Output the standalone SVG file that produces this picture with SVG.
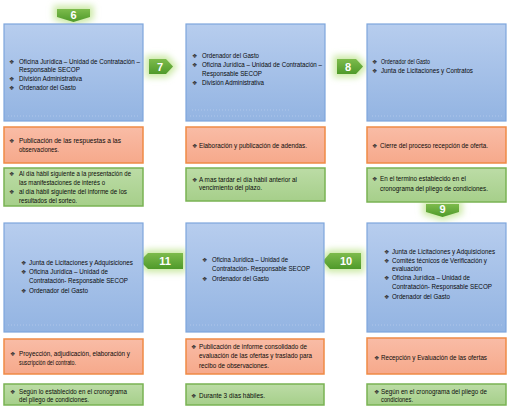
<svg xmlns="http://www.w3.org/2000/svg" width="508" height="407" viewBox="0 0 508 407">
<defs>
<linearGradient id="gBlue" x1="0" y1="0" x2="0" y2="1"><stop offset="0" stop-color="#b7cdee"/><stop offset="1" stop-color="#93b4e2"/></linearGradient>
<linearGradient id="gOr" x1="0" y1="0" x2="0" y2="1"><stop offset="0" stop-color="#f9bca6"/><stop offset="1" stop-color="#f6a98b"/></linearGradient>
<linearGradient id="gGr" x1="0" y1="0" x2="0" y2="1"><stop offset="0" stop-color="#bcdca6"/><stop offset="1" stop-color="#a6cf8a"/></linearGradient>
<linearGradient id="gAr" x1="0" y1="0" x2="0" y2="1"><stop offset="0" stop-color="#7dbb4c"/><stop offset="1" stop-color="#4f9a2a"/></linearGradient>
<filter id="glow" x="-60%" y="-100%" width="220%" height="300%"><feGaussianBlur stdDeviation="3"/></filter>
<style>
.blue{fill:url(#gBlue);stroke:#7ea6dc;stroke-width:1.2}
.or{fill:url(#gOr);stroke:#ef8a45;stroke-width:1.5}
.gr{fill:url(#gGr);stroke:#79b353;stroke-width:1.5}
.dots{stroke:#c9d9f2;stroke-width:0.8;stroke-dasharray:0.8 2.2;fill:none;opacity:0.8}
.t{font-family:"Liberation Sans",Arial,sans-serif;font-size:7px;fill:#0a0a0a}
.b{font-family:"DejaVu Sans",sans-serif;font-size:6px;fill:#333}
.ar{fill:url(#gAr)}
.halo{fill:#c2e49a;stroke:#cdeaa8;stroke-width:7;filter:url(#glow)}
.n{font-family:"Liberation Sans",Arial,sans-serif;font-size:11px;font-weight:bold;fill:#fff;text-anchor:middle}
</style>
</defs>
<rect width="508" height="407" fill="#fff"/>

<g id="connectors">
  <g id="arrow6"><polygon class="halo" points="57,9 90,9 90,17 73.5,22 57,17"/><polygon class="ar" points="57,9 90,9 90,17 73.5,22 57,17"/><text class="n" x="73.5" y="18.5">6</text></g>
  <g id="arrow7"><polygon class="halo" points="149,59 166,59 173,66.5 166,74 149,74"/><polygon class="ar" points="149,59 166,59 173,66.5 166,74 149,74"/><text class="n" x="160" y="70.5">7</text></g>
  <g id="arrow8"><polygon class="halo" points="337,59 356,59 363,66.5 356,74 337,74"/><polygon class="ar" points="337,59 356,59 363,66.5 356,74 337,74"/><text class="n" x="348" y="70.5">8</text></g>
  <g id="arrow9"><polygon class="halo" points="426,204 459,204 459,212 442.5,217 426,212"/><polygon class="ar" points="426,204 459,204 459,212 442.5,217 426,212"/><text class="n" x="442.5" y="213">9</text></g>
  <g id="arrow10"><polygon class="halo" points="323,261 330,253 361,253 361,269 330,269"/><polygon class="ar" points="323,261 330,253 361,253 361,269 330,269"/><text class="n" x="346" y="265">10</text></g>
  <g id="arrow11"><polygon class="halo" points="140,261 148,253 183,253 183,269 148,269"/><polygon class="ar" points="140,261 148,253 183,253 183,269 148,269"/><text class="n" x="165" y="265">11</text></g>
</g>

<g id="step6">
  <g id="s6-who"><rect class="blue" x="4" y="24" width="139" height="97"/>
    <line class="dots" x1="8" y1="116" x2="138" y2="116"/>
    <text class="b" x="9" y="64">❖</text><text class="t" x="19" y="64" textLength="121" lengthAdjust="spacingAndGlyphs">Oficina Jurídica – Unidad de Contratación –</text>
    <text class="t" x="19" y="71.5" textLength="61" lengthAdjust="spacingAndGlyphs">Responsable SECOP</text>
    <text class="b" x="9" y="81">❖</text><text class="t" x="19" y="81" textLength="63" lengthAdjust="spacingAndGlyphs">División Administrativa</text>
    <text class="b" x="9" y="90">❖</text><text class="t" x="19" y="90" textLength="57" lengthAdjust="spacingAndGlyphs">Ordenador del Gasto</text>
  </g>
  <g id="s6-what"><rect class="or" x="4" y="127" width="139" height="36"/>
    <text class="b" x="9" y="142.5">❖</text><text class="t" x="19" y="142.5" textLength="102" lengthAdjust="spacingAndGlyphs">Publicación de las respuestas a las</text>
    <text class="t" x="19" y="151.5" textLength="40" lengthAdjust="spacingAndGlyphs">observaciones.</text>
  </g>
  <g id="s6-when"><rect class="gr" x="4" y="168" width="139" height="38"/>
    <text class="b" x="9" y="175.5">❖</text><text class="t" x="19" y="175.5" textLength="112" lengthAdjust="spacingAndGlyphs">Al día hábil siguiente a la presentación de</text>
    <text class="t" x="19" y="184.5" textLength="86" lengthAdjust="spacingAndGlyphs">las manifestaciones de interés o</text>
    <text class="b" x="9" y="193.5">❖</text><text class="t" x="19" y="193.5" textLength="108" lengthAdjust="spacingAndGlyphs">al día hábil siguiente del informe de los</text>
    <text class="t" x="19" y="202.5" textLength="58" lengthAdjust="spacingAndGlyphs">resultados del sorteo.</text>
  </g>
</g>

<g id="step7">
  <g id="s7-who"><rect class="blue" x="186" y="24" width="139" height="97"/>
    <line class="dots" x1="192" y1="110" x2="290" y2="110"/>
    <line class="dots" x1="190" y1="116" x2="320" y2="116"/>
    <text class="b" x="192" y="57.5">❖</text><text class="t" x="202" y="57.5" textLength="57" lengthAdjust="spacingAndGlyphs">Ordenador del Gasto</text>
    <text class="b" x="192" y="66.5">❖</text><text class="t" x="202" y="66.5" textLength="120" lengthAdjust="spacingAndGlyphs">Oficina Jurídica – Unidad de Contratación –</text>
    <text class="t" x="202" y="75.5" textLength="60" lengthAdjust="spacingAndGlyphs">Responsable SECOP</text>
    <text class="b" x="192" y="85">❖</text><text class="t" x="202" y="85" textLength="62" lengthAdjust="spacingAndGlyphs">División Administrativa</text>
  </g>
  <g id="s7-what"><rect class="or" x="186" y="127" width="139" height="36"/>
    <text class="b" x="192" y="147.5">❖</text><text class="t" x="199" y="147.5" textLength="108" lengthAdjust="spacingAndGlyphs">Elaboración y publicación de adendas.</text>
  </g>
  <g id="s7-when"><rect class="gr" x="186" y="168" width="139" height="33"/>
    <text class="b" x="192" y="181.5">❖</text><text class="t" x="199" y="181.5" textLength="98" lengthAdjust="spacingAndGlyphs">A mas tardar el día hábil anterior al</text>
    <text class="t" x="199" y="189.5" textLength="63" lengthAdjust="spacingAndGlyphs">vencimiento del plazo.</text>
  </g>
</g>

<g id="step8">
  <g id="s8-who"><rect class="blue" x="367" y="24" width="139" height="97"/>
    <line class="dots" x1="372" y1="116" x2="502" y2="116"/>
    <text class="b" x="372" y="63.5">❖</text><text class="t" x="381" y="63.5" textLength="49" lengthAdjust="spacingAndGlyphs">Ordenador del Gasto</text>
    <text class="b" x="372" y="72.5">❖</text><text class="t" x="381" y="72.5" textLength="92" lengthAdjust="spacingAndGlyphs">Junta de Licitaciones y Contratos</text>
  </g>
  <g id="s8-what"><rect class="or" x="367" y="127" width="139" height="36"/>
    <text class="b" x="372" y="147.5">❖</text><text class="t" x="380" y="147.5" textLength="108" lengthAdjust="spacingAndGlyphs">Cierre del proceso recepción de oferta.</text>
  </g>
  <g id="s8-when"><rect class="gr" x="367" y="168" width="139" height="34"/>
    <text class="b" x="372" y="180.5">❖</text><text class="t" x="380" y="180.5" textLength="86" lengthAdjust="spacingAndGlyphs">En el termino establecido en el</text>
    <text class="t" x="380" y="190.5" textLength="108" lengthAdjust="spacingAndGlyphs">cronograma del pliego de condiciones.</text>
  </g>
</g>

<g id="step9">
  <g id="s9-who"><rect class="blue" x="367" y="223" width="139" height="109"/>
    <line class="dots" x1="372" y1="325" x2="502" y2="325"/>
    <text class="b" x="384" y="253.5">❖</text><text class="t" x="392" y="253.5" textLength="103" lengthAdjust="spacingAndGlyphs">Junta de Licitaciones y Adquisiciones</text>
    <text class="b" x="384" y="262.5">❖</text><text class="t" x="392" y="262.5" textLength="95" lengthAdjust="spacingAndGlyphs">Comités técnicos de Verificación y</text>
    <text class="t" x="392" y="270.5" textLength="30" lengthAdjust="spacingAndGlyphs">evaluación</text>
    <text class="b" x="384" y="279.5">❖</text><text class="t" x="392" y="279.5" textLength="78" lengthAdjust="spacingAndGlyphs">Oficina Jurídica – Unidad de</text>
    <text class="t" x="392" y="288.5" textLength="100" lengthAdjust="spacingAndGlyphs">Contratación- Responsable SECOP</text>
    <text class="b" x="384" y="299">❖</text><text class="t" x="392" y="299" textLength="58" lengthAdjust="spacingAndGlyphs">Ordenador del Gasto</text>
  </g>
  <g id="s9-what"><rect class="or" x="367" y="338" width="139" height="36"/>
    <text class="b" x="374" y="359.5">❖</text><text class="t" x="381" y="359.5" textLength="106" lengthAdjust="spacingAndGlyphs">Recepción y Evaluación de las ofertas</text>
  </g>
  <g id="s9-when"><rect class="gr" x="367" y="384" width="139" height="21"/>
    <text class="b" x="374" y="393.5">❖</text><text class="t" x="381" y="393.5" textLength="106" lengthAdjust="spacingAndGlyphs">Según en el cronograma del pliego de</text>
    <text class="t" x="381" y="401.5" textLength="32" lengthAdjust="spacingAndGlyphs">condiciones.</text>
  </g>
</g>

<g id="step10">
  <g id="s10-who"><rect class="blue" x="186" y="223" width="138" height="109"/>
    <line class="dots" x1="190" y1="325" x2="320" y2="325"/>
    <text class="b" x="202" y="261.5">❖</text><text class="t" x="212" y="261.5" textLength="76" lengthAdjust="spacingAndGlyphs">Oficina Jurídica – Unidad de</text>
    <text class="t" x="212" y="270.5" textLength="98" lengthAdjust="spacingAndGlyphs">Contratación- Responsable SECOP</text>
    <text class="b" x="202" y="280.5">❖</text><text class="t" x="212" y="280.5" textLength="57" lengthAdjust="spacingAndGlyphs">Ordenador del Gasto</text>
  </g>
  <g id="s10-what"><rect class="or" x="186" y="339" width="138" height="35"/>
    <text class="b" x="191" y="348.5">❖</text><text class="t" x="199" y="348.5" textLength="108" lengthAdjust="spacingAndGlyphs">Publicación de informe consolidado de</text>
    <text class="t" x="199" y="358" textLength="113" lengthAdjust="spacingAndGlyphs">evaluación de las ofertas y traslado para</text>
    <text class="t" x="199" y="367.5" textLength="70" lengthAdjust="spacingAndGlyphs">recibo de observaciones.</text>
  </g>
  <g id="s10-when"><rect class="gr" x="186" y="384" width="138" height="21"/>
    <text class="b" x="191" y="397.5">❖</text><text class="t" x="199" y="397.5" textLength="66" lengthAdjust="spacingAndGlyphs">Durante 3 días hábiles.</text>
  </g>
</g>

<g id="step11">
  <g id="s11-who"><rect class="blue" x="4" y="223" width="139" height="109"/>
    <line class="dots" x1="8" y1="325" x2="138" y2="325"/>
    <text class="b" x="21" y="264.5">❖</text><text class="t" x="29" y="264.5" textLength="104" lengthAdjust="spacingAndGlyphs">Junta de Licitaciones y Adquisiciones</text>
    <text class="b" x="21" y="274">❖</text><text class="t" x="29" y="274" textLength="79" lengthAdjust="spacingAndGlyphs">Oficina Jurídica – Unidad de</text>
    <text class="t" x="29" y="283" textLength="99" lengthAdjust="spacingAndGlyphs">Contratación- Responsable SECOP</text>
    <text class="b" x="21" y="292.5">❖</text><text class="t" x="29" y="292.5" textLength="59" lengthAdjust="spacingAndGlyphs">Ordenador del Gasto</text>
  </g>
  <g id="s11-what"><rect class="or" x="4" y="339" width="139" height="35"/>
    <text class="b" x="10" y="355.5">❖</text><text class="t" x="19" y="355.5" textLength="111" lengthAdjust="spacingAndGlyphs">Proyección, adjudicación, elaboración y</text>
    <text class="t" x="19" y="364.5" textLength="57" lengthAdjust="spacingAndGlyphs">suscripción del contrato.</text>
  </g>
  <g id="s11-when"><rect class="gr" x="4" y="384" width="139" height="21"/>
    <text class="b" x="10" y="393.5">❖</text><text class="t" x="19" y="393.5" textLength="108" lengthAdjust="spacingAndGlyphs">Según lo establecido en el cronograma</text>
    <text class="t" x="19" y="401.5" textLength="70" lengthAdjust="spacingAndGlyphs">del pliego de condiciones.</text>
  </g>
</g>
</svg>
